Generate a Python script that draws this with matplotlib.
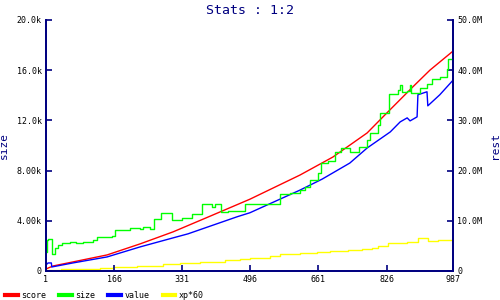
import numpy as np
import matplotlib
matplotlib.use("Agg")
import matplotlib.pyplot as plt
from matplotlib.lines import Line2D

# size series (left axis, thousands)
size_idx = [1, 3, 5, 15, 23, 30, 40, 59, 74, 91, 115, 125, 161, 168, 204, 229, 236, 253,
            262, 279, 306, 330, 355, 379, 403, 410, 425, 442, 483, 568, 592, 616, 628,
            641, 660, 668, 684, 701, 716, 737, 759, 779, 786, 805, 810, 832, 854, 859,
            863, 876, 883, 885, 907, 924, 936, 955, 972, 975, 987]
size_k = [1.51, 2.47, 2.55, 1.35, 1.83, 2.07, 2.23, 2.31, 2.23, 2.31, 2.47, 2.71, 2.79,
          3.27, 3.43, 3.35, 3.51, 3.35, 4.14, 4.62, 4.06, 4.22, 4.54, 5.34, 5.10, 5.34,
          4.70, 4.78, 5.34, 6.14, 6.22, 6.45, 6.70, 7.25, 7.80, 8.60, 8.76, 9.48, 9.80,
          9.48, 9.88, 10.4, 11.0, 11.6, 12.6, 14.1, 14.42, 14.82, 14.26, 14.34, 14.82,
          14.18, 14.58, 14.9, 15.3, 15.46, 16.1, 16.9, 16.9]

# score series (right axis, millions)
score_idx = [1, 18, 66, 149, 229, 309, 398, 495, 616, 696, 779, 827, 890, 931, 987]
score_m = [0.4, 1.0, 1.8, 3.2, 5.4, 7.8, 10.9, 14.3, 19.1, 22.7, 27.5, 31.5, 36.7, 40.0, 43.8]

# value series (right axis, millions)
value_idx = [1, 6, 14, 15, 66, 149, 229, 309, 345, 464, 495, 616, 670, 737, 779, 835,
             859, 876, 883, 900, 902, 924, 926, 955, 987]
value_m = [1.2, 1.6, 1.6, 0.8, 1.6, 2.8, 4.8, 6.6, 7.4, 10.8, 11.6, 16.1, 18.3, 21.5,
           24.5, 27.7, 29.7, 30.5, 29.9, 30.7, 35.1, 35.7, 32.9, 35.1, 38.0]

# xp*60 series (right axis, millions)
xp_idx = [1, 37, 131, 163, 221, 284, 325, 374, 435, 471, 495, 544, 568, 616, 658, 689,
          733, 767, 791, 805, 830, 876, 902, 926, 950, 987]
xp_m = [0.2, 0.4, 0.6, 0.8, 1.0, 1.4, 1.6, 1.8, 2.2, 2.4, 2.6, 3.0, 3.4, 3.6, 3.8, 4.0,
        4.2, 4.4, 4.6, 5.0, 5.6, 5.8, 6.6, 6.0, 6.2, 6.2]

x_ticks = [1, 166, 331, 496, 661, 826, 987]
left_ticks = [0, 4, 8, 12, 16, 20]
left_labels = ["0", "4.00k", "8.00k", "12.0k", "16.0k", "20.0k"]
right_ticks = [0, 10, 20, 30, 40, 50]
right_labels = ["0", "10.0M", "20.0M", "30.0M", "40.0M", "50.0M"]

NAVY = "#000080"
MONO = "DejaVu Sans Mono"

fig = plt.figure(figsize=(5, 3), dpi=100)
ax = fig.add_axes([0.092, 0.0967, 0.814, 0.8367])
ax2 = ax.twinx()

ax2.plot(score_idx, score_m, color="#ff0000", lw=1.0)
ax2.plot(value_idx, value_m, color="#0000ff", lw=1.0)
ax2.plot(xp_idx, xp_m, color="#ffff00", lw=1.0, drawstyle="steps-post")
ax.plot(size_idx, size_k, color="#00ff00", lw=1.0, drawstyle="steps-post")
ax.set_zorder(ax2.get_zorder() + 1)
ax.patch.set_visible(False)

ax.set_xlim(1, 987)
ax.set_ylim(0, 20)
ax2.set_ylim(0, 50)
ax.set_xticks(x_ticks)
ax.set_xticklabels([str(v) for v in x_ticks])
ax.set_yticks(left_ticks)
ax.set_yticklabels(left_labels)
ax2.set_yticks(right_ticks)
ax2.set_yticklabels(right_labels)

for a in (ax, ax2):
    a.spines["top"].set_visible(False)
    for s in ("left", "right", "bottom"):
        a.spines[s].set_color(NAVY)
        a.spines[s].set_linewidth(1.3)
    a.tick_params(direction="in", length=4, width=1.2, color=NAVY,
                  labelsize=6, labelcolor="black", pad=3)
    for lbl in a.get_xticklabels() + a.get_yticklabels():
        lbl.set_family(MONO)

ax.set_ylabel("size", color=NAVY, fontsize=8, family=MONO, labelpad=6)
ax2.set_ylabel("rest", color=NAVY, fontsize=8, family=MONO, rotation=90, labelpad=6)
fig.text(0.5, 0.965, "Stats : 1:2", ha="center", va="center", color=NAVY,
         fontsize=9.5, family=MONO)

handles = [Line2D([], [], color=c, lw=3) for c in ("#ff0000", "#00ff00", "#0000ff", "#ffff00")]
fig.legend(handles, ["score", "size", "value", "xp*60"], loc="lower left",
           bbox_to_anchor=(-0.005, -0.025), ncol=4, frameon=False,
           prop={"family": MONO, "size": 6}, handlelength=1.5, handletextpad=0.4,
           columnspacing=1.6)

fig.savefig("out.png", dpi=100)
